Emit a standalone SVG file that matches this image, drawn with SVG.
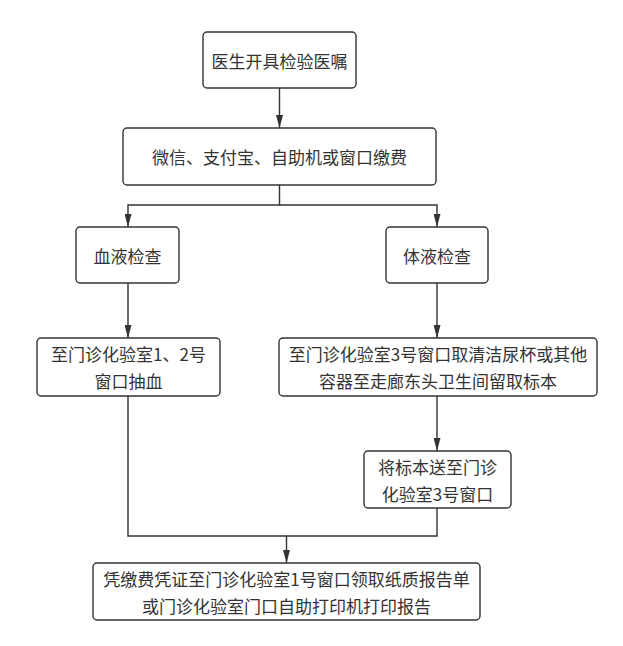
<svg xmlns="http://www.w3.org/2000/svg" width="623" height="646" viewBox="0 0 623 646">
<defs>
<style>
.box{fill:#ffffff;stroke:#333333;stroke-width:1.4}
.t{font-family:"Noto Sans CJK SC","Microsoft YaHei",sans-serif;font-size:17px;fill:#333333;text-anchor:middle;dominant-baseline:central}
.c{fill:none;stroke:#333333;stroke-width:1.4}
</style>
<marker id="arr" viewBox="0 0 13 7" markerWidth="13" markerHeight="7" refX="13" refY="3.5" orient="auto" markerUnits="userSpaceOnUse">
<path d="M0,0 L13,3.5 L0,7 Z" fill="#333333"/>
</marker>
</defs>
<rect width="623" height="646" fill="#ffffff"/>
<g id="connectors">
<path class="c" d="M279.5 88 V128" marker-end="url(#arr)"/>
<path class="c" d="M279.5 185 V205 H128 V227" marker-end="url(#arr)"/>
<path class="c" d="M279.5 205 H437 V227" marker-end="url(#arr)"/>
<path class="c" d="M128 283 V338" marker-end="url(#arr)"/>
<path class="c" d="M437 283 V338" marker-end="url(#arr)"/>
<path class="c" d="M437 396 V451" marker-end="url(#arr)"/>
<path class="c" d="M128 396 V536 H286.5 V563" marker-end="url(#arr)"/>
<path class="c" d="M437 508 V536 H286.5"/>
</g>
<g id="n1">
<rect class="box" x="203" y="32" width="153" height="56" rx="4"/>
<text class="t" x="279.5" y="60">医生开具检验医嘱</text>
</g>
<g id="n2">
<rect class="box" x="123" y="128" width="313" height="57" rx="4"/>
<text class="t" x="279.5" y="156.5">微信、支付宝、自助机或窗口缴费</text>
</g>
<g id="n3">
<rect class="box" x="76" y="227" width="103" height="56" rx="4"/>
<text class="t" x="127.5" y="255">血液检查</text>
</g>
<g id="n4">
<rect class="box" x="386" y="227" width="102" height="56" rx="4"/>
<text class="t" x="437" y="255">体液检查</text>
</g>
<g id="n5">
<rect class="box" x="37" y="338" width="183" height="58" rx="4"/>
<text class="t" x="128.5" y="353.5">至门诊化验室1、2号</text>
<text class="t" x="128.5" y="380.5">窗口抽血</text>
</g>
<g id="n6">
<rect class="box" x="279" y="338" width="318" height="58" rx="4"/>
<text class="t" x="438" y="353.5">至门诊化验室3号窗口取清洁尿杯或其他</text>
<text class="t" x="438" y="380.5">容器至走廊东头卫生间留取标本</text>
</g>
<g id="n7">
<rect class="box" x="364" y="451" width="147" height="57" rx="4"/>
<text class="t" x="437.5" y="466">将标本送至门诊</text>
<text class="t" x="437.5" y="493">化验室3号窗口</text>
</g>
<g id="n8">
<rect class="box" x="93" y="563" width="387" height="57" rx="4"/>
<text class="t" x="286.5" y="578">凭缴费凭证至门诊化验室1号窗口领取纸质报告单</text>
<text class="t" x="286.5" y="605">或门诊化验室门口自助打印机打印报告</text>
</g>
</svg>
